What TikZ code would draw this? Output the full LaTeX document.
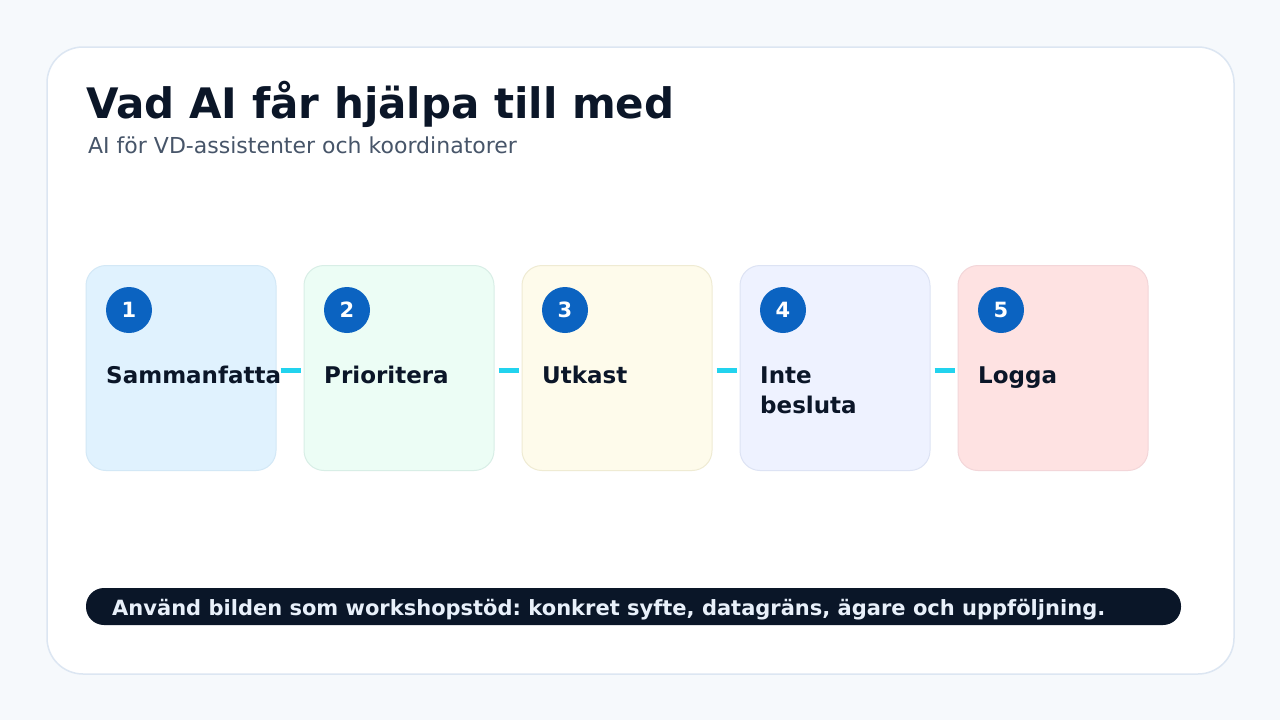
\documentclass[tikz,border=0pt]{standalone}
\usepackage{fontspec}
\setmainfont{DejaVu Sans}
\frenchspacing
\definecolor{pagebg}{HTML}{F6F9FC}
\definecolor{cardline}{HTML}{DCE6F2}
\definecolor{inkdark}{HTML}{0B1628}
\definecolor{inksub}{HTML}{475569}
\definecolor{badge}{HTML}{0B63C1}
\definecolor{linkcol}{HTML}{22D3EE}
\definecolor{notebg}{HTML}{0A1628}
\definecolor{notefg}{HTML}{E8F0FA}
\definecolor{fillA}{HTML}{E0F2FE}\definecolor{lineA}{HTML}{D3E8F6}
\definecolor{fillB}{HTML}{ECFDF5}\definecolor{lineB}{HTML}{D8EEE6}
\definecolor{fillC}{HTML}{FEFBEB}\definecolor{lineC}{HTML}{EFEBD3}
\definecolor{fillD}{HTML}{EEF2FF}\definecolor{lineD}{HTML}{DDE3F4}
\definecolor{fillE}{HTML}{FEE2E2}\definecolor{lineE}{HTML}{F3D6D9}
\tikzset{
  stepbox/.style={draw, line width=1pt, rounded corners=20pt, inner sep=0pt,
    minimum width=190pt, minimum height=205pt},
  badgedot/.style={circle, fill=badge, inner sep=0pt, minimum size=46pt,
    text=white, font=\bfseries\fontsize{21}{24}\selectfont},
  steplabel/.style={anchor=base west, inner sep=0pt, text=inkdark, align=left,
    font=\bfseries\fontsize{23}{30}\selectfont},
  link/.style={draw=linkcol, line width=5pt}
}
\begin{document}
\begin{tikzpicture}[x=1pt,y=-1pt]
  \useasboundingbox (0,0) rectangle (1280,720);
  \fill[pagebg] (0,0) rectangle (1280,720);

  % card
  \node[draw=cardline, fill=white, line width=1.5pt, rounded corners=36pt,
        inner sep=0pt, minimum width=1187pt, minimum height=627pt] (card) at (640.5,360.5) {};
  \node[anchor=base west, inner sep=0pt, text=inkdark,
        font=\bfseries\fontsize{42}{50}\selectfont] (title) at (86,118) {Vad AI får hjälpa till med};
  \node[anchor=base west, inner sep=0pt, text=inksub,
        font=\fontsize{22}{26}\selectfont] (subtitle) at (88,153) {AI för VD-assistenter och koordinatorer};

  % steps
  \node[stepbox, fill=fillA, draw=lineA] (s1) at (181,368) {};
  \node[stepbox, fill=fillB, draw=lineB] (s2) at (399,368) {};
  \node[stepbox, fill=fillC, draw=lineC] (s3) at (617,368) {};
  \node[stepbox, fill=fillD, draw=lineD] (s4) at (835,368) {};
  \node[stepbox, fill=fillE, draw=lineE] (s5) at (1053,368) {};

  \draw[link] ([xshift=4pt,yshift=-2pt]s1.east) -- ([xshift=-3pt,yshift=-2pt]s2.west);
  \draw[link] ([xshift=4pt,yshift=-2pt]s2.east) -- ([xshift=-3pt,yshift=-2pt]s3.west);
  \draw[link] ([xshift=4pt,yshift=-2pt]s3.east) -- ([xshift=-3pt,yshift=-2pt]s4.west);
  \draw[link] ([xshift=4pt,yshift=-2pt]s4.east) -- ([xshift=-3pt,yshift=-2pt]s5.west);

  \node[badgedot] (b1) at (129,310) {1};
  \node[badgedot] (b2) at (347,310) {2};
  \node[badgedot] (b3) at (565,310) {3};
  \node[badgedot] (b4) at (783,310) {4};
  \node[badgedot] (b5) at (1001,310) {5};

  \node[steplabel] (l1) at (106,383) {Sammanfatta};
  \node[steplabel] (l2) at (324,383) {Prioritera};
  \node[steplabel] (l3) at (542,383) {Utkast};
  \node[steplabel] (l4) at (760,413) {Inte\\besluta};
  \node[steplabel] (l5) at (978,383) {Logga};

  % note bar
  \node[fill=notebg, rounded corners=18pt, inner sep=0pt,
        minimum width=1095pt, minimum height=37pt] (note) at (633.5,606.5) {};
  \node[anchor=base west, inner sep=0pt, text=notefg,
        font=\bfseries\fontsize{21}{24}\selectfont] (notetext) at (112,615)
        {Använd bilden som workshopstöd: konkret syfte, datagräns, ägare och uppföljning.};
\end{tikzpicture}
\end{document}
